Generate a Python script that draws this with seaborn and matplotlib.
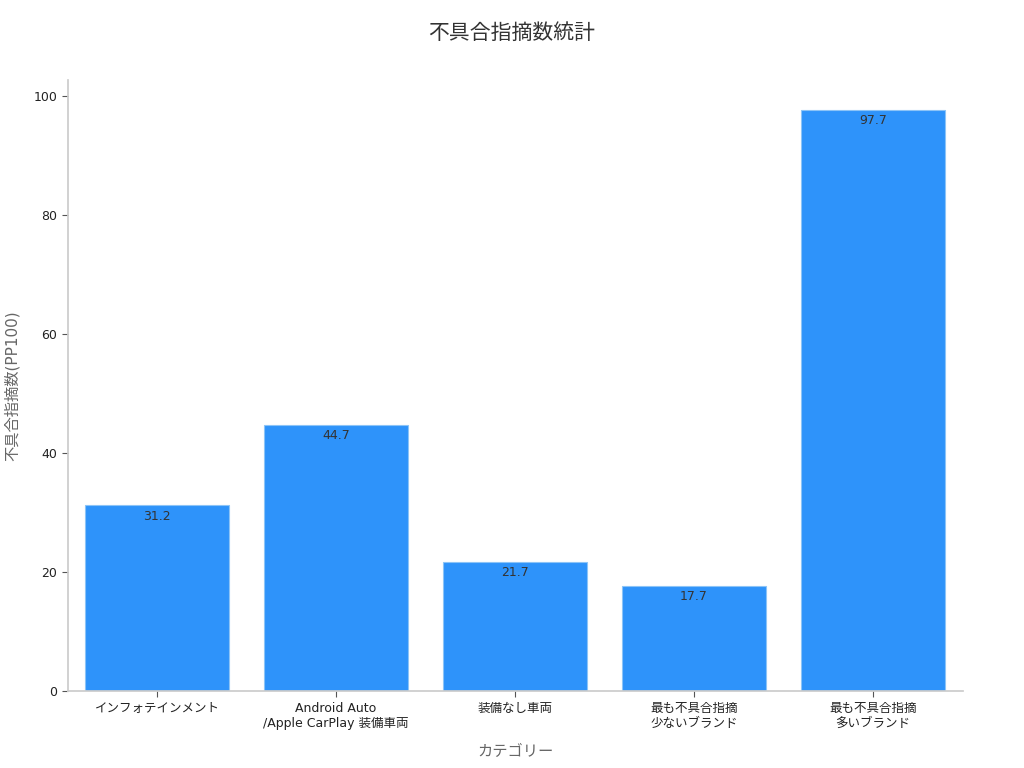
import matplotlib
matplotlib.use('Agg')
import matplotlib.pyplot as plt
import pandas as pd
import seaborn as sns

categories = ['インフォテインメント', 'Android Auto\n/Apple CarPlay 装備車両', '装備なし車両',
              '最も不具合指摘\n少ないブランド', '最も不具合指摘\n多いブランド']
values = [31.2, 44.7, 21.7, 17.7, 97.7]

df = pd.DataFrame({'カテゴリー': categories, '不具合指摘数(PP100)': values})

sns.set_theme(style='white')
plt.rcParams['font.family'] = ['DejaVu Sans', 'Noto Sans CJK JP']

fig = plt.figure(figsize=(10.24, 7.68), dpi=100)
ax = fig.add_axes([0.066, 0.100, 0.874, 0.796])

sns.barplot(data=df, x='カテゴリー', y='不具合指摘数(PP100)', color='#2E93FA',
            saturation=1, width=0.8, edgecolor='#8CC4F7', linewidth=0.8, ax=ax)

for i, v in enumerate(values):
    ax.text(i, v - 0.7, f'{v}', ha='center', va='top', fontsize=9, color='#333333')

ax.set_ylim(0, 102.7)
ax.set_xlim(-0.5, 4.5)
ax.set_yticks([0, 20, 40, 60, 80, 100])
for side in ['top', 'right']:
    ax.spines[side].set_visible(False)
for side in ['left', 'bottom']:
    ax.spines[side].set_color('#cccccc')
ax.tick_params(axis='both', labelsize=9, colors='#222222', length=4, width=0.8, bottom=True, left=True)
ax.tick_params(axis='both', color='#555555')
ax.set_xlabel('カテゴリー', fontsize=11, color='#666666', labelpad=10)
ax.set_ylabel('不具合指摘数(PP100)', fontsize=11, color='#666666', labelpad=10)
fig.suptitle('不具合指摘数統計', fontsize=15, color='#333333', y=0.97)

fig.savefig('out.png', dpi=100)
